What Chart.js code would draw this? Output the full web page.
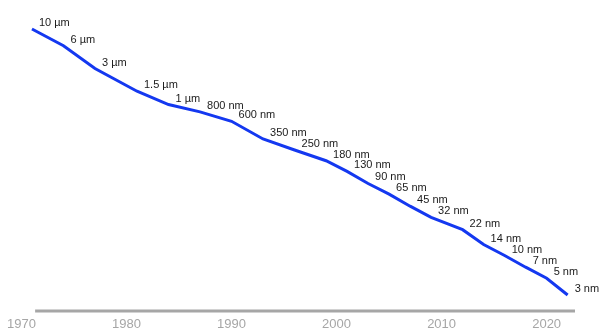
<!DOCTYPE html>
<html>
<head>
<meta charset="utf-8">
<script src="https://cdn.jsdelivr.net/npm/chart.js@4.4.1/dist/chart.umd.min.js"></script>
<style>
  html, body { margin: 0; padding: 0; background: #fff; }
  #wrap { width: 602px; height: 331px; }
</style>
</head>
<body>
<div id="wrap"><canvas id="nodes"></canvas></div>
<script>
// Process node per year (nm), labels as printed next to the line
var years = [1971, 1974, 1977, 1981, 1984, 1987, 1990, 1993, 1996, 1999, 2001,
             2003, 2005, 2007, 2009, 2012, 2014, 2016, 2018, 2020, 2022];
var nodeSizes = [10000, 6000, 3000, 1500, 1000, 800, 600, 350, 250, 180, 130,
                 90, 65, 45, 32, 22, 14, 10, 7, 5, 3];
var nodeLabels = ["10 µm", "6 µm", "3 µm", "1.5 µm", "1 µm", "800 nm", "600 nm",
                  "350 nm", "250 nm", "180 nm", "130 nm", "90 nm", "65 nm", "45 nm",
                  "32 nm", "22 nm", "14 nm", "10 nm", "7 nm", "5 nm", "3 nm"];
var yearTicks = [1970, 1980, 1990, 2000, 2010, 2020];

var points = years.map(function (yr, i) {
    return { x: yr, y: nodeSizes[i] };
});

// text next to every point
var nodeLabelPlugin = {
    id: "nodeLabels",
    afterDatasetsDraw: function (chart) {
        var ctx = chart.ctx;
        var meta = chart.getDatasetMeta(0);
        ctx.save();
        ctx.font = "11px 'Liberation Sans', Arial, sans-serif";
        ctx.fillStyle = "#1a1a1a";
        ctx.textAlign = "left";
        ctx.textBaseline = "middle";
        meta.data.forEach(function (pt, i) {
            ctx.fillText(nodeLabels[i], pt.x + 7, pt.y - 6);
        });
        ctx.restore();
    }
};

// grey baseline, starts a bit right of 1970 like the original
var baselinePlugin = {
    id: "baseline",
    beforeDatasetsDraw: function (chart) {
        var xs = chart.scales.x;
        var ctx = chart.ctx;
        ctx.save();
        ctx.strokeStyle = "#a6a6a6";
        ctx.lineWidth = 3;
        ctx.beginPath();
        ctx.moveTo(xs.getPixelForValue(1971.3), xs.top);
        ctx.lineTo(xs.right, xs.top);
        ctx.stroke();
        ctx.restore();
    }
};

var chart = new Chart(document.getElementById("nodes"), {
    type: "line",
    data: {
        datasets: [{
            data: points,
            borderColor: "#1438f0",
            borderWidth: 3,
            pointRadius: 0,
            tension: 0,
            fill: false
        }]
    },
    options: {
        responsive: true,
        maintainAspectRatio: false,
        animation: false,
        layout: {
            padding: { left: 20, right: 27, top: 10, bottom: 0 }
        },
        plugins: {
            legend: { display: false },
            tooltip: { enabled: false }
        },
        scales: {
            x: {
                type: "linear",
                min: 1970,
                max: 2022.7,
                bounds: "data",
                afterBuildTicks: function (scale) {
                    scale.ticks = yearTicks.map(function (v) { return { value: v }; });
                },
                afterFit: function (scale) {
                    scale.height = 20;
                },
                grid: { display: false, drawTicks: false },
                border: { display: false },
                ticks: {
                    color: "#a6a6a6",
                    padding: 7,
                    maxRotation: 0,
                    autoSkip: false,
                    font: { family: "'Liberation Sans', Arial, sans-serif", size: 13, lineHeight: 1 },
                    callback: function (v) { return String(v); }
                }
            },
            y: {
                type: "logarithmic",
                display: false,
                min: 1.84,
                max: 17870,
                bounds: "data"
            }
        }
    },
    plugins: [baselinePlugin, nodeLabelPlugin]
});
</script>
</body>
</html>
